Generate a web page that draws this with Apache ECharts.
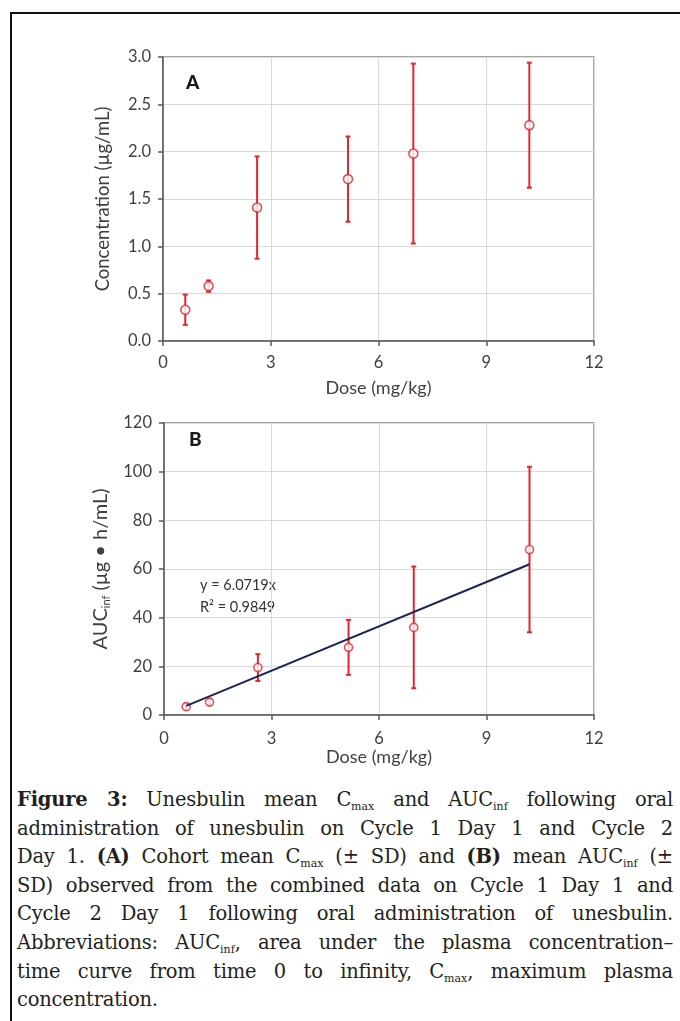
<!DOCTYPE html>
<html>
<head>
<meta charset="utf-8">
<script src="https://cdn.jsdelivr.net/npm/echarts@6/dist/echarts.min.js"></script>
<style>
  html, body { margin:0; padding:0; background:#fff; }
  body { width:680px; height:1021px; position:relative; overflow:hidden; }
  #frame { position:absolute; left:10px; top:12px; right:-5px; bottom:-5px; border-left:2.5px solid #111; border-top:2.5px solid #111; }
  #chart { position:absolute; left:0; top:0; width:680px; height:780px; }
  #cap { position:absolute; left:17px; top:786px; width:656px; font-family:"DejaVu Serif", serif; font-size:19.5px; line-height:28.6px; color:#231f20; letter-spacing:-0.2px; }
  #cap .l { text-align:justify; text-align-last:justify; }
  #cap sub { font-size:11px; vertical-align:-4px; line-height:0; letter-spacing:0; }
</style>
</head>
<body>
<div id="frame"></div>
<div id="chart"></div>
<div id="cap">
<div class="l"><b>Figure 3:</b> Unesbulin mean C<sub>max</sub> and AUC<sub>inf</sub> following oral</div>
<div class="l">administration of unesbulin on Cycle 1 Day 1 and Cycle 2</div>
<div class="l">Day 1. <b>(A)</b> Cohort mean C<sub>max</sub> (± SD) and <b>(B)</b> mean AUC<sub>inf</sub> (±</div>
<div class="l">SD) observed from the combined data on Cycle 1 Day 1 and</div>
<div class="l">Cycle 2 Day 1 following oral administration of unesbulin.</div>
<div class="l">Abbreviations: AUC<sub>inf</sub>, area under the plasma concentration–</div>
<div class="l">time curve from time 0 to infinity, C<sub>max</sub>, maximum plasma</div>
<div>concentration.</div>
</div>
<script>
// ---- data ----
const dose = [0.62, 1.27, 2.62, 5.15, 6.97, 10.2];
const cmaxMean = [0.33, 0.58, 1.41, 1.71, 1.98, 2.28];
const cmaxSD = [0.16, 0.06, 0.54, 0.45, 0.95, 0.66];
const aucMean = [3.4, 5.3, 19.5, 27.8, 36.0, 68.0];
const aucSD = [1.3, 1.2, 5.5, 11.3, 25.0, 34.0];
const trendSlope = 6.0719;
const trendX = [0.62, 10.2];
const xTicks = [0, 3, 6, 9, 12];
const yTicksA = [0, 0.5, 1.0, 1.5, 2.0, 2.5, 3.0];
const yTicksB = [0, 20, 40, 60, 80, 100, 120];

const RED = '#e52330';
const FONT = 'Lato, sans-serif';
const TXT = '#404040';

const chart = echarts.init(document.getElementById('chart'), null, { renderer: 'canvas' });

function errData(m, sd) { return dose.map((d, i) => [d, m[i] - sd[i], m[i] + sd[i]]); }
function errRender(params, api) {
  const x = api.value(0), lo = api.value(1), hi = api.value(2);
  const p1 = api.coord([x, hi]), p2 = api.coord([x, lo]);
  const w = 2.5;
  const st = { stroke: RED, lineWidth: 2 };
  return { type: 'group', children: [
    { type: 'line', shape: { x1: p1[0], y1: p1[1], x2: p2[0], y2: p2[1] }, style: st },
    { type: 'line', shape: { x1: p1[0] - w, y1: p1[1], x2: p1[0] + w, y2: p1[1] }, style: st },
    { type: 'line', shape: { x1: p2[0] - w, y1: p2[1], x2: p2[0] + w, y2: p2[1] }, style: st }
  ]};
}

function xAxisOpt(idx, gap, margin) {
  return {
    type: 'value', gridIndex: idx, min: xTicks[0], max: xTicks[xTicks.length - 1], interval: 3,
    name: 'Dose (mg/kg)', nameLocation: 'middle', nameGap: gap,
    nameTextStyle: { fontFamily: FONT, fontSize: 18, color: TXT },
    axisLine: { show: true, onZero: false, lineStyle: { color: '#595959', width: 1.5 } },
    axisTick: { show: true, length: 5, inside: false, lineStyle: { color: '#595959', width: 1.5 } },
    axisLabel: { fontFamily: FONT, fontSize: 16.5, color: TXT, margin: margin },
    splitLine: { show: true, lineStyle: { color: '#d9d9d9', width: 1 } }
  };
}
function yAxisOpt(idx, ticks, interval, name, gap, fmt, nameStyle) {
  return {
    type: 'value', gridIndex: idx, min: ticks[0], max: ticks[ticks.length - 1], interval: interval,
    name: name, nameLocation: 'middle', nameGap: gap,
    nameTextStyle: nameStyle,
    axisLine: { show: true, lineStyle: { color: '#595959', width: 1.5 } },
    axisTick: { show: true, length: 5, inside: false, lineStyle: { color: '#595959', width: 1.5 } },
    axisLabel: { fontFamily: FONT, fontSize: 16.5, color: TXT, margin: 12, formatter: fmt },
    splitLine: { show: true, lineStyle: { color: '#d9d9d9', width: 1 } }
  };
}

const option = {
  animation: false,
  grid: [
    { left: 163, width: 431, top: 57, height: 284, show: true, borderColor: '#8a8a8a', borderWidth: 1.5, backgroundColor: 'transparent' },
    { left: 164, width: 430, top: 423, height: 292, show: true, borderColor: '#8a8a8a', borderWidth: 1.5, backgroundColor: 'transparent' }
  ],
  xAxis: [ xAxisOpt(0, 38, 13), xAxisOpt(1, 33, 15) ],
  yAxis: [
    yAxisOpt(0, yTicksA, 0.5, 'Concentration (µg/mL)', 50, v => v.toFixed(1),
      { fontFamily: FONT, fontSize: 18.5, color: TXT }),
    yAxisOpt(1, yTicksB, 20, '{a|AUC}{s|inf}{a| (µg • h/mL)}', 48, v => String(v), {
      fontFamily: FONT, fontSize: 20, color: TXT,
      rich: {
        a: { fontFamily: FONT, fontSize: 20, color: TXT, lineHeight: 24 },
        s: { fontFamily: FONT, fontSize: 11, color: TXT, lineHeight: 24, verticalAlign: 'bottom' }
      }
    })
  ],
  graphic: [
    { type: 'text', left: 186, top: 73, style: { text: 'A', fontFamily: FONT, fontWeight: 900, fontSize: 19, fill: '#1a1a1a' } },
    { type: 'text', left: 189, top: 430, style: { text: 'B', fontFamily: FONT, fontWeight: 900, fontSize: 19, fill: '#1a1a1a' } },
    { type: 'text', left: 200, top: 578, style: { text: 'y = 6.0719x', fontFamily: FONT, fontSize: 14.5, fill: '#333' } },
    { type: 'text', left: 200, top: 600, style: { text: 'R² = 0.9849', fontFamily: FONT, fontSize: 14.5, fill: '#333' } }
  ],
  series: [
    { type: 'custom', xAxisIndex: 0, yAxisIndex: 0, renderItem: errRender, encode: { x: 0, y: [1, 2] }, data: errData(cmaxMean, cmaxSD), z: 2 },
    { type: 'scatter', xAxisIndex: 0, yAxisIndex: 0, symbol: 'circle', symbolSize: 9,
      itemStyle: { color: '#fff', borderColor: RED, borderWidth: 1.6 },
      data: dose.map((d, i) => [d, cmaxMean[i]]), z: 3 },
    { type: 'custom', xAxisIndex: 1, yAxisIndex: 1, renderItem: errRender, encode: { x: 0, y: [1, 2] }, data: errData(aucMean, aucSD), z: 2 },
    { type: 'line', xAxisIndex: 1, yAxisIndex: 1, symbol: 'none', lineStyle: { color: '#1c2555', width: 2 },
      data: trendX.map(x => [x, trendSlope * x]), z: 4 },
    { type: 'scatter', xAxisIndex: 1, yAxisIndex: 1, symbol: 'circle', symbolSize: 8,
      itemStyle: { color: '#fff', borderColor: RED, borderWidth: 1.6 },
      data: dose.map((d, i) => [d, aucMean[i]]), z: 3 }
  ]
};
chart.setOption(option);
</script>
</body>
</html>
